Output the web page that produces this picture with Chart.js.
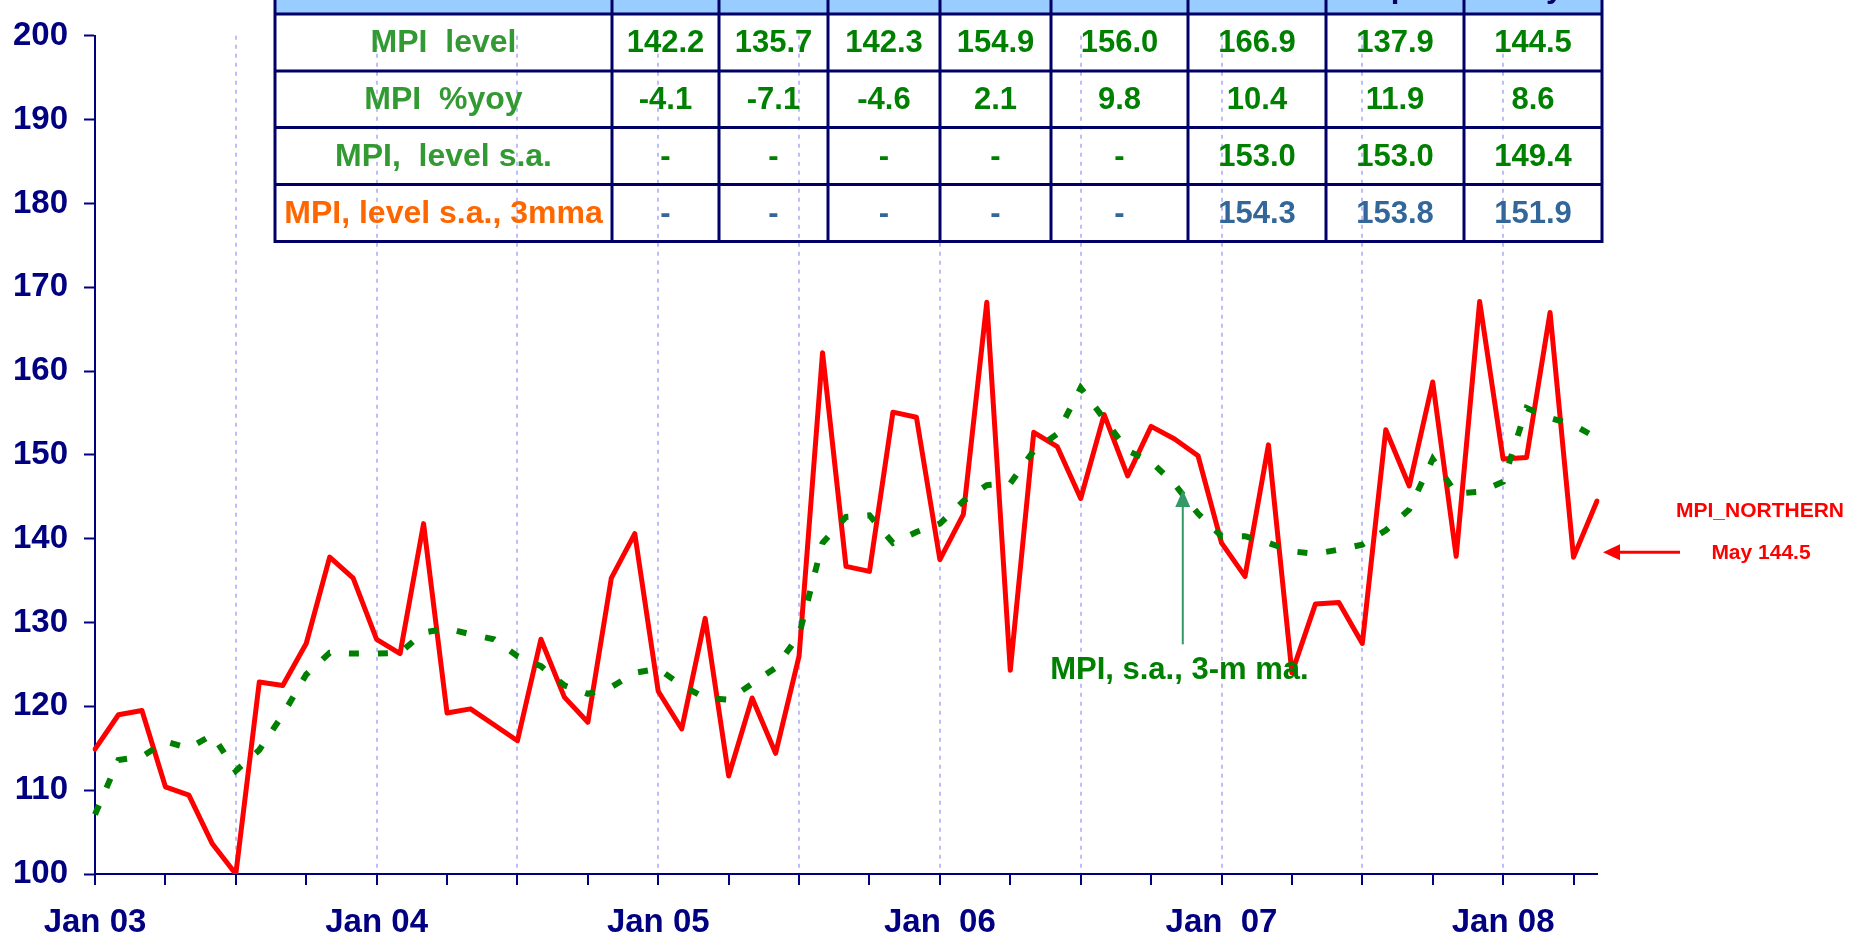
<!DOCTYPE html>
<html>
<head>
<meta charset="utf-8">
<title>MPI Northern</title>
<script src="https://cdn.jsdelivr.net/npm/chart.js@4.4.1/dist/chart.umd.min.js"></script>
<style>
  html, body { margin: 0; padding: 0; background: #ffffff; }
  #wrap { position: relative; width: 1865px; height: 940px; }
</style>
</head>
<body>
<div id="wrap"><canvas id="mpiChart"></canvas></div>
<script>
// monthly series, Jan 03 .. May 08
const monthNames = ['Jan', 'Feb', 'Mar', 'Apr', 'May', 'Jun', 'Jul', 'Aug', 'Sep', 'Oct', 'Nov', 'Dec'];
const yearNames = ['03', '04', '05', '06', '07', '08'];
const xTickLabels = ['Jan 03', 'Jan 04', 'Jan 05', 'Jan  06', 'Jan  07', 'Jan 08'];

const mpiLevel = [
  114.9, 119.0, 119.5, 110.4, 109.4, 103.6, 100.0, 122.9, 122.5, 127.5, 137.8, 135.3,
  128.0, 126.3, 141.8, 119.2, 119.7, 117.8, 115.9, 128.0, 121.1, 118.1, 135.3, 140.6,
  121.8, 117.3, 130.5, 111.7, 121.0, 114.4, 126.0, 162.2, 136.7, 136.1, 155.1, 154.5,
  137.5, 142.9, 168.2, 124.3, 152.7, 151.0, 144.8, 154.8, 147.5, 153.4, 151.9, 149.9,
  139.5, 135.5, 151.2, 124.0, 132.2, 132.4, 127.5, 153.0, 146.3, 158.7, 137.9, 168.3,
  149.5, 149.7, 167.0, 137.8, 144.5
];

const mpiSa3mma = [
  107.1, 113.6, 114.0, 115.8, 115.0, 116.6, 112.3, 114.8, 119.0, 123.8, 126.4, 126.3,
  126.3, 126.4, 128.8, 129.3, 128.6, 128.0, 126.0, 124.8, 122.5, 121.5, 122.3, 124.0,
  124.5, 122.5, 121.0, 120.8, 122.7, 124.6, 128.5, 139.5, 142.6, 142.8, 139.5, 140.8,
  141.8, 144.5, 146.4, 146.6, 150.5, 152.5, 158.0, 154.3, 150.5, 149.2, 146.5, 143.0,
  140.3, 140.3, 139.5, 138.5, 138.2, 138.7, 139.3, 141.0, 143.5, 149.5, 145.4, 145.6,
  146.8, 155.6, 154.4, 153.6, 152.0
];

// summary table
const tableHeaders = ['Oct', 'Nov', 'Dec', 'Jan', 'Feb', 'Mar', 'Apr', 'May'];
const tableRowLabels = ['MPI  level', 'MPI  %yoy', 'MPI,  level s.a.', 'MPI, level s.a., 3mma'];
const tableLevel = ['142.2', '135.7', '142.3', '154.9', '156.0', '166.9', '137.9', '144.5'];
const tableYoy = ['-4.1', '-7.1', '-4.6', '2.1', '9.8', '10.4', '11.9', '8.6'];
const tableSa = ['-', '-', '-', '-', '-', '153.0', '153.0', '149.4'];
const tableSa3mma = ['-', '-', '-', '-', '-', '154.3', '153.8', '151.9'];

const categories = [];
yearNames.forEach(y => monthNames.forEach(m => {
  if (categories.length < mpiLevel.length) categories.push(m + ' ' + y);
}));

const FONT = '"Liberation Sans", Arial, sans-serif';
const NAVY = '#000080';

const summaryTable = {
  id: 'summaryTable',
  afterDraw(chart) {
    const ctx = chart.ctx;
    const cols = [275, 612, 719, 828, 940, 1051, 1188, 1326, 1464, 1602];
    const rows = [-44, 14, 71, 127.5, 184.5, 241.5];
    const rowData = [tableLevel, tableYoy, tableSa, tableSa3mma];
    const labelColors = ['#339933', '#339933', '#339933', '#ff6600'];
    const valueColors = ['#008000', '#008000', '#008000', '#336699'];

    ctx.save();
    ctx.fillStyle = '#99ccff';
    ctx.fillRect(cols[0], rows[0], cols[9] - cols[0], rows[1] - rows[0]);

    ctx.textAlign = 'center';
    ctx.font = 'bold 31px ' + FONT;
    ctx.fillStyle = '#000066';
    ctx.textBaseline = 'alphabetic';
    tableHeaders.forEach((h, i) => ctx.fillText(h, (cols[i + 1] + cols[i + 2]) / 2, -3));

    ctx.textBaseline = 'middle';
    tableRowLabels.forEach((label, r) => {
      const cy = (rows[r + 1] + rows[r + 2]) / 2 + 1;
      ctx.font = 'bold 32px ' + FONT;
      ctx.fillStyle = labelColors[r];
      ctx.fillText(label, (cols[0] + cols[1]) / 2, cy);
      ctx.font = 'bold 31px ' + FONT;
      ctx.fillStyle = valueColors[r];
      rowData[r].forEach((v, c) => ctx.fillText(v, (cols[c + 1] + cols[c + 2]) / 2, cy));
    });

    ctx.strokeStyle = '#000066';
    ctx.lineWidth = 3;
    ctx.beginPath();
    rows.slice(1).forEach(y => {
      ctx.moveTo(cols[0] - 1.5, y);
      ctx.lineTo(cols[9] + 1.5, y);
    });
    cols.forEach(x => {
      ctx.moveTo(x, 0);
      ctx.lineTo(x, rows[5] + 1.5);
    });
    ctx.stroke();
    ctx.restore();
  }
};

const callouts = {
  id: 'callouts',
  afterDraw(chart) {
    const ctx = chart.ctx;
    const xs = chart.scales.x;
    const ys = chart.scales.y;
    const area = chart.chartArea;
    ctx.save();

    // green arrow pointing at the moving average
    const ax = xs.getPixelForValue(46.35);
    const tipY = ys.getPixelForValue(145.8);
    const tailY = ys.getPixelForValue(127.4);
    ctx.strokeStyle = '#339966';
    ctx.fillStyle = '#339966';
    ctx.lineWidth = 2;
    ctx.beginPath();
    ctx.moveTo(ax, tailY);
    ctx.lineTo(ax, tipY + 14);
    ctx.stroke();
    ctx.beginPath();
    ctx.moveTo(ax, tipY);
    ctx.lineTo(ax - 7.5, tipY + 17);
    ctx.lineTo(ax + 7.5, tipY + 17);
    ctx.closePath();
    ctx.fill();

    ctx.font = 'bold 31px ' + FONT;
    ctx.fillStyle = '#008000';
    ctx.textAlign = 'left';
    ctx.textBaseline = 'alphabetic';
    ctx.fillText('MPI, s.a., 3-m ma.', xs.getPixelForValue(40.7), ys.getPixelForValue(123.3));

    // red arrow and last value note
    const ry = ys.getPixelForValue(138.4);
    const tipX = area.right + 6;
    ctx.strokeStyle = '#ff0000';
    ctx.fillStyle = '#ff0000';
    ctx.lineWidth = 3;
    ctx.beginPath();
    ctx.moveTo(tipX + 14, ry);
    ctx.lineTo(tipX + 77, ry);
    ctx.stroke();
    ctx.beginPath();
    ctx.moveTo(tipX, ry);
    ctx.lineTo(tipX + 17, ry - 8);
    ctx.lineTo(tipX + 17, ry + 8);
    ctx.closePath();
    ctx.fill();

    ctx.font = 'bold 21px ' + FONT;
    ctx.textAlign = 'center';
    ctx.textBaseline = 'middle';
    ctx.fillText('MPI_NORTHERN', area.right + 163, ys.getPixelForValue(143.3));
    ctx.fillText('May 144.5', area.right + 164, ry + 1);
    ctx.restore();
  }
};

new Chart(document.getElementById('mpiChart'), {
  type: 'line',
  data: {
    labels: categories,
    datasets: [
      {
        label: 'MPI_NORTHERN',
        data: mpiLevel,
        borderColor: '#ff0000',
        borderWidth: 5,
        borderJoinStyle: 'round',
        borderCapStyle: 'round',
        pointRadius: 0,
        tension: 0,
        order: 1
      },
      {
        label: 'MPI, s.a., 3-m ma.',
        data: mpiSa3mma,
        borderColor: '#008000',
        borderWidth: 6,
        borderDash: [10, 19],
        borderCapStyle: 'butt',
        pointRadius: 0,
        tension: 0,
        order: 0
      }
    ]
  },
  options: {
    responsive: true,
    maintainAspectRatio: false,
    animation: false,
    layout: { padding: { top: 21, right: 268, bottom: 0, left: 0 } },
    plugins: {
      legend: { display: false },
      tooltip: { enabled: false }
    },
    scales: {
      x: {
        type: 'category',
        offset: false,
        afterBuildTicks: scale => {
          scale.ticks = scale.ticks.filter(t => t.value % 3 === 0);
        },
        afterFit: scale => { scale.height = 66; },
        ticks: {
          autoSkip: false,
          maxRotation: 0,
          minRotation: 0,
          padding: 18,
          color: NAVY,
          font: { family: FONT, size: 33, weight: 'bold' },
          callback: value => (value % 12 === 0 ? xTickLabels[value / 12] : '')
        },
        grid: {
          color: c => (c.tick && c.tick.value % 6 === 0 && c.tick.value > 0 ? '#bdbdfa' : 'transparent'),
          lineWidth: 2,
          tickColor: NAVY,
          tickWidth: 2,
          tickLength: 11
        },
        border: { color: NAVY, width: 2, dash: [4, 5] }
      },
      y: {
        min: 100,
        max: 200,
        afterFit: scale => { scale.width = 95; },
        ticks: {
          stepSize: 10,
          padding: 16,
          color: NAVY,
          font: { family: FONT, size: 33, weight: 'bold' }
        },
        grid: {
          drawOnChartArea: false,
          tickColor: NAVY,
          tickWidth: 2,
          tickLength: 11
        },
        border: { color: NAVY, width: 2 }
      }
    }
  },
  plugins: [summaryTable, callouts]
});
</script>
</body>
</html>
